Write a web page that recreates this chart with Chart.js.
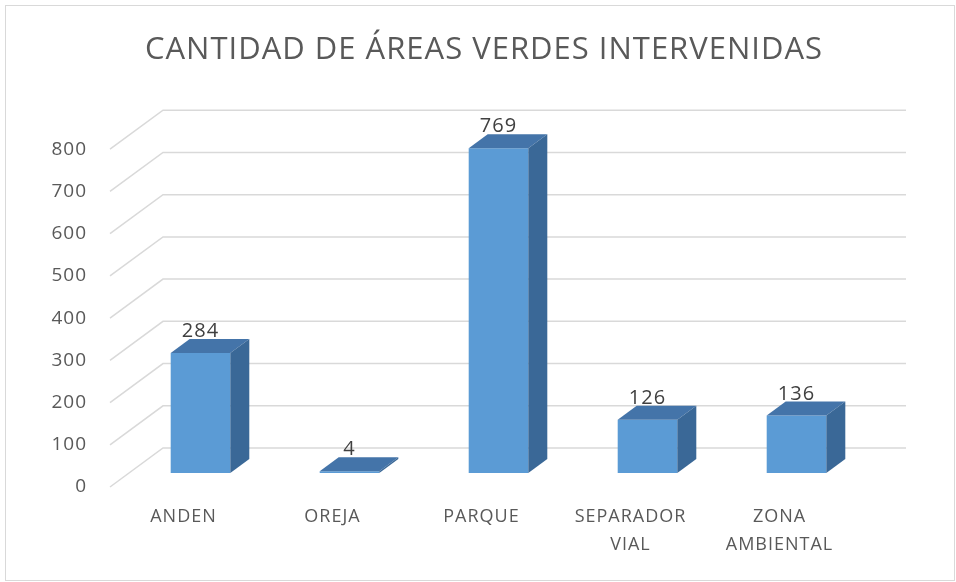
<!DOCTYPE html>
<html>
<head>
<meta charset="utf-8">
<script src="https://cdn.jsdelivr.net/npm/chart.js@4.4.1/dist/chart.umd.min.js"></script>
<style>
  html, body { margin: 0; padding: 0; background: #fff; }
  #wrap { width: 956px; height: 582px; }
</style>
</head>
<body>
<div id="wrap"><canvas id="areasChart"></canvas></div>
<script>
const chartTitle = 'CANTIDAD DE ÁREAS VERDES INTERVENIDAS';
const categories = ['ANDEN', 'OREJA', 'PARQUE', ['SEPARADOR', 'VIAL'], ['ZONA', 'AMBIENTAL']];
const areaCounts = [284, 4, 769, 126, 136];
const yTicks = [0, 100, 200, 300, 400, 500, 600, 700, 800];

// effet 3D : profondeur des barres et du "plancher"
const barDepthX = 19, barDepthY = 14;
const textGray = '#595959';

// fond blanc + cadre gris
const frame = {
    id: 'frame',
    beforeDraw(chart) {
        const ctx = chart.ctx;
        ctx.save();
        ctx.fillStyle = '#ffffff';
        ctx.fillRect(0, 0, chart.width, chart.height);
        ctx.strokeStyle = '#d9d9d9';
        ctx.lineWidth = 1;
        ctx.strokeRect(5.5, 5.5, chart.width - 7, chart.height - 7);
        ctx.restore();
        ctx.letterSpacing = '1px'; // texte un peu espacé comme dans Excel
    },
    afterDraw(chart) {
        chart.ctx.letterSpacing = '0px';
    }
};

// lignes de grille : paroi du fond + diagonale du côté gauche
const wallGrid = {
    id: 'wallGrid',
    beforeDatasetsDraw(chart) {
        const { ctx, chartArea, scales: { y } } = chart;
        ctx.save();
        ctx.strokeStyle = '#d9d9d9';
        ctx.lineWidth = 1.5;
        yTicks.forEach(v => {
            const py = y.getPixelForValue(v);
            ctx.beginPath();
            ctx.moveTo(chartArea.left - 16, py + 14);
            ctx.lineTo(chartArea.left + 37, py - 25);
            ctx.lineTo(chartArea.right + 35, py - 25);
            ctx.stroke();
        });
        ctx.restore();
    }
};

// faces du dessus et de côté + étiquettes de valeur
const bars3d = {
    id: 'bars3d',
    afterDatasetsDraw(chart) {
        const ctx = chart.ctx;
        const meta = chart.getDatasetMeta(0);
        ctx.save();
        meta.data.forEach((bar, i) => {
            const { x, y, base, width } = bar.getProps(['x', 'y', 'base', 'width'], true);
            const l = x - width / 2, r = x + width / 2;

            // dessus
            ctx.fillStyle = '#4474a9';
            ctx.beginPath();
            ctx.moveTo(l, y);
            ctx.lineTo(r, y);
            ctx.lineTo(r + barDepthX, y - barDepthY);
            ctx.lineTo(l + barDepthX, y - barDepthY);
            ctx.closePath();
            ctx.fill();

            // côté
            ctx.fillStyle = '#3a6897';
            ctx.beginPath();
            ctx.moveTo(r, y);
            ctx.lineTo(r + barDepthX, y - barDepthY);
            ctx.lineTo(r + barDepthX, base - barDepthY);
            ctx.lineTo(r, base);
            ctx.closePath();
            ctx.fill();

            // valeur
            ctx.fillStyle = '#404040';
            ctx.font = '20px "Open Sans"';
            ctx.textAlign = 'center';
            ctx.textBaseline = 'alphabetic';
            ctx.fillText(String(areaCounts[i]), x, y - barDepthY - 2);
        });
        ctx.restore();
    }
};

const ctx = document.getElementById('areasChart');

new Chart(ctx, {
    type: 'bar',
    data: {
        labels: categories,
        datasets: [{
            label: 'Áreas verdes',
            data: areaCounts,
            backgroundColor: '#5b9bd5',
            borderWidth: 0,
            barPercentage: 0.4,
            categoryPercentage: 1,
            xAxisID: 'x',
            yAxisID: 'y'
        }]
    },
    options: {
        responsive: true,
        maintainAspectRatio: false,
        animation: false,
        layout: { padding: { left: 12, right: 0, top: 0, bottom: 0 } },
        plugins: {
            legend: { display: false },
            tooltip: { enabled: false },
            title: {
                display: true,
                text: chartTitle,
                color: textGray,
                font: { family: 'Open Sans', size: 31, weight: 'normal', lineHeight: 1.2 },
                padding: { top: 32, bottom: 66 }
            }
        },
        scales: {
            x: {
                grid: { display: false, drawTicks: false },
                border: { display: false },
                ticks: {
                    color: textGray,
                    font: { family: 'Open Sans', size: 18, lineHeight: 1.55 },
                    padding: 30,
                    labelOffset: -17,
                    maxRotation: 0,
                    autoSkip: false
                },
                afterFit(scale) { scale.height = 109; }
            },
            y: {
                min: 0,
                max: 800,
                grid: { display: false, drawTicks: false },
                border: { display: false },
                ticks: {
                    stepSize: 100,
                    color: textGray,
                    font: { family: 'Open Sans', size: 19 },
                    padding: 39,
                    labelOffset: 14
                },
                afterFit(scale) { scale.width = 114; }
            },
            // axe vide : réserve la marge de droite (profondeur du graphique)
            yRight: {
                position: 'right',
                grid: { display: false, drawTicks: false },
                border: { display: false },
                ticks: { display: false },
                afterFit(scale) { scale.width = 85; }
            }
        }
    },
    plugins: [frame, wallGrid, bars3d]
});
</script>
</body>
</html>
